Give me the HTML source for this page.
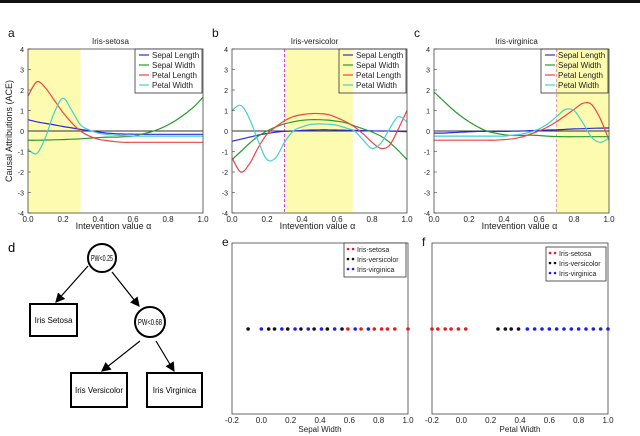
<!DOCTYPE html>
<html><head><meta charset="utf-8"><style>
html,body{margin:0;padding:0;background:#fff}
svg{display:block;font-family:"Liberation Sans",sans-serif}
</style></head><body>
<svg id="c" width="640" height="436" viewBox="0 0 640 436" xmlns="http://www.w3.org/2000/svg">
<rect x="0" y="0" width="640" height="3" fill="#111"/>
<g id="tree">
<text x="8" y="252" font-size="13">d</text>
<defs><marker id="ar" markerWidth="8" markerHeight="8" refX="7" refY="4" orient="auto"><path d="M0,0 L8,4 L0,8 z" fill="#000"/></marker></defs>
<line x1="88" y1="266" x2="56" y2="302" stroke="#000" stroke-width="1.2" marker-end="url(#ar)"/>
<line x1="112" y1="272" x2="139" y2="306" stroke="#000" stroke-width="1.2" marker-end="url(#ar)"/>
<line x1="140" y1="341" x2="102" y2="371" stroke="#000" stroke-width="1.2" marker-end="url(#ar)"/>
<line x1="156" y1="341" x2="174" y2="371" stroke="#000" stroke-width="1.2" marker-end="url(#ar)"/>
<g><circle cx="102" cy="258" r="14" fill="#fff" stroke="#000" stroke-width="2"/><text x="102" y="261" font-size="8" text-anchor="middle" textLength="22" lengthAdjust="spacingAndGlyphs">PW&lt;0.25</text></g>
<g><circle cx="150" cy="322" r="15" fill="#fff" stroke="#000" stroke-width="2"/><text x="150" y="325" font-size="8" text-anchor="middle" textLength="24" lengthAdjust="spacingAndGlyphs">PW&lt;0.68</text></g>
<g><rect x="30" y="304" width="47" height="32" fill="#fff" stroke="#000" stroke-width="2"/><text x="53.5" y="323" font-size="8" text-anchor="middle">Iris Setosa</text></g>
<g><rect x="71" y="373" width="56" height="34" fill="#fff" stroke="#000" stroke-width="2"/><text x="99" y="393" font-size="8" text-anchor="middle">Iris Versicolor</text></g>
<g><rect x="147" y="373" width="55" height="34" fill="#fff" stroke="#000" stroke-width="2"/><text x="174.5" y="393" font-size="8" text-anchor="middle">Iris Virginica</text></g>
</g>
</svg>
<script>
var xs=[0,0.05,0.1,0.15,0.2,0.25,0.3,0.35,0.4,0.45,0.5,0.55,0.6,0.65,0.7,0.75,0.8,0.85,0.9,0.95,1];
var seriesNames=["Sepal Length","Sepal Width","Petal Length","Petal Width"];
var setosaSL=[0.55,0.45,0.37,0.3,0.22,0.15,0.08,0.02,-0.05,-0.1,-0.13,-0.15,-0.15,-0.16,-0.16,-0.16,-0.16,-0.16,-0.16,-0.16,-0.16];
var setosaSW=[-0.45,-0.45,-0.44,-0.43,-0.42,-0.4,-0.38,-0.35,-0.32,-0.3,-0.3,-0.28,-0.25,-0.15,-0.05,0.1,0.3,0.55,0.85,1.2,1.65];
var setosaPL=[1.7,2.4,2.1,1.5,0.9,0.4,0.0,-0.25,-0.4,-0.47,-0.52,-0.55,-0.55,-0.55,-0.55,-0.55,-0.55,-0.55,-0.55,-0.55,-0.55];
var setosaPW=[-0.9,-1.1,-0.3,0.9,1.6,1.0,0.3,0.05,-0.1,-0.17,-0.2,-0.23,-0.25,-0.25,-0.25,-0.25,-0.25,-0.25,-0.25,-0.25,-0.25];
var versSL=[-0.5,-0.4,-0.3,-0.2,-0.12,-0.06,-0.02,0,0.03,0.05,0.06,0.06,0.05,0.04,0.03,0.02,0.01,0,0,-0.02,-0.03];
var versSW=[-1.4,-1.0,-0.6,-0.25,0.0,0.2,0.35,0.45,0.52,0.55,0.55,0.53,0.48,0.4,0.25,0.1,-0.05,-0.25,-0.55,-0.95,-1.4];
var versPL=[-1.3,-2.0,-1.6,-0.8,-0.15,0.2,0.5,0.7,0.8,0.85,0.85,0.8,0.65,0.45,0.2,-0.15,-0.55,-0.85,-0.7,0.1,1.0];
var versPW=[1.0,1.25,0.6,-0.5,-1.4,-1.3,-0.55,0.0,0.2,0.32,0.35,0.33,0.28,0.15,0.0,-0.45,-0.85,-0.6,0.1,0.7,0.45];
var virgSL=[-0.1,-0.1,-0.08,-0.06,-0.04,-0.02,-0.02,-0.02,-0.02,-0.01,0,0.02,0.03,0.05,0.06,0.08,0.1,0.11,0.13,0.14,0.15];
var virgSW=[1.9,1.5,1.1,0.75,0.45,0.2,0.0,-0.1,-0.18,-0.22,-0.22,-0.2,-0.22,-0.25,-0.27,-0.28,-0.28,-0.28,-0.28,-0.28,-0.28];
var virgPL=[-0.45,-0.45,-0.45,-0.45,-0.45,-0.45,-0.45,-0.45,-0.42,-0.38,-0.3,-0.15,0.0,0.2,0.45,0.75,1.05,1.35,1.3,0.6,-0.45];
var virgPW=[-0.25,-0.25,-0.25,-0.25,-0.25,-0.25,-0.25,-0.25,-0.25,-0.2,-0.15,-0.05,0.1,0.35,0.7,1.05,1.0,0.4,-0.3,-0.55,-0.35];
var xTicks=["0.0","0.2","0.4","0.6","0.8","1.0"];
var yTicks=["-4","-3","-2","-1","0","1","2","3","4"];
var eTicks=["-0.2","0.0","0.2","0.4","0.6","0.8","1.0"];
var eSetosa=[0.59,0.68,0.77,0.82,0.86,0.91,1.0];
var eVersicolor=[-0.09,0.05,0.09,0.18,0.27,0.36,0.45,0.55];
var eVirginica=[0,0.14,0.23,0.32,0.41,0.5,0.64,0.73];
var fSetosa=[-0.2,-0.16,-0.11,-0.07,-0.02,0.03];
var fVersicolor=[0.25,0.3,0.34,0.39];
var fVirginica=[0.45,0.5,0.55,0.6,0.65,0.7,0.75,0.8,0.85,0.9,0.95,1.0];

var NS="http://www.w3.org/2000/svg",svg=document.getElementById('c');
function mk(t,a,p){var e=document.createElementNS(NS,t);for(var k in a)e.setAttribute(k,a[k]);(p||svg).appendChild(e);return e;}
var colors=["#2b2bdd","#2a9a2a","#ee4444","#44d0d0"];
function smooth(P){
  var d='M'+P[0][0].toFixed(1)+','+P[0][1].toFixed(1);
  for(var i=0;i<P.length-1;i++){
    var p0=P[i>0?i-1:i],p1=P[i],p2=P[i+1],p3=P[i+2<P.length?i+2:i+1];
    var c1x=p1[0]+(p2[0]-p0[0])/6,c1y=p1[1]+(p2[1]-p0[1])/6;
    var c2x=p2[0]-(p3[0]-p1[0])/6,c2y=p2[1]-(p3[1]-p1[1])/6;
    d+=' C'+c1x.toFixed(1)+','+c1y.toFixed(1)+' '+c2x.toFixed(1)+','+c2y.toFixed(1)+' '+p2[0].toFixed(1)+','+p2[1].toFixed(1);
  }
  return d;
}

function linePanel(o){
  var L=o.x,R=o.x+175,T=49,B=213;
  var g=mk('g',{});
  
  
  function sx(v){return L+v*(R-L);} function sy(v){return B-(v+4)/8*(B-T);}
  var y=mk('rect',{x:sx(o.hl[0]),y:T,width:sx(o.hl[1])-sx(o.hl[0]),height:B-T,fill:'#fdfbb0'},g);
  
  
  if(o.dash){var d=mk('line',{x1:sx(o.dashX),x2:sx(o.dashX),y1:T,y2:B,stroke:o.dash,'stroke-dasharray':'3,2','stroke-width':1},g);
    
    }
  mk('line',{x1:L,x2:R,y1:sy(0),y2:sy(0),stroke:'#333','stroke-width':1},g);
  o.data.forEach(function(s,i){
    var P=s.map(function(v,j){return [sx(xs[j]),sy(v)];});
    var p=mk('path',{d:smooth(P),fill:'none',stroke:colors[i],'stroke-width':1.2},g);
    
    
  });
  mk('rect',{x:L,y:T,width:R-L,height:B-T,fill:'none',stroke:'#444','stroke-width':0.8},g);
  xTicks.forEach(function(t){var v=parseFloat(t);
    var tx=mk('text',{x:sx(v),y:B+9,'font-size':8,'text-anchor':'middle',fill:'#222'},g);tx.textContent=t;
    
    });
  yTicks.forEach(function(t){var v=parseFloat(t);
    mk('line',{x1:L,x2:L+3,y1:sy(v),y2:sy(v),stroke:'#444','stroke-width':0.6},g);
    var tx=mk('text',{x:L-4,y:sy(v)+3,'font-size':7,'text-anchor':'end',fill:'#222'},g);tx.textContent=t;
    
    });
  var xl=mk('text',{x:(L+R)/2-2,y:B+16,'font-size':9,'text-anchor':'middle',fill:'#222'},g);xl.textContent='Intevention value α';
  
  
  var tl=mk('text',{x:(L+R)/2-5,y:T-5,'font-size':8,'text-anchor':'middle',fill:'#222'},g);tl.textContent=o.title;
  
  
  var pl=mk('text',{x:L-20,y:T-12,'font-size':12,fill:'#111'},g);pl.textContent=o.label;
  
  
  var lg=mk('g',{},g);
  
  
  mk('rect',{x:o.lx,y:T,width:R-o.lx-1,height:44,fill:'#fff','fill-opacity':o.lop,stroke:'#333','stroke-width':0.8},lg);
  seriesNames.forEach(function(n,i){var yy=T+9+i*10;
    mk('line',{x1:o.lx+4,x2:o.lx+14,y1:yy-3,y2:yy-3,stroke:colors[i],'stroke-width':1.2},lg);
    var t=mk('text',{x:o.lx+17,y:yy,'font-size':8,fill:'#222'},lg);t.textContent=n;
    
    });
}
linePanel({x:28,name:'chart-setosa',title:'Iris-setosa',label:'a',hl:[0,0.3],data:[setosaSL,setosaSW,setosaPL,setosaPW],lx:135,lop:0.75});
linePanel({x:232,name:'chart-versicolor',title:'Iris-versicolor',label:'b',hl:[0.3,0.69],dash:'#e040e0',dashX:0.3,data:[versSL,versSW,versPL,versPW],lx:339,lop:0});
linePanel({x:434,name:'chart-virginica',title:'Iris-virginica',label:'c',hl:[0.7,1.0],dash:'#f4a0a0',dashX:0.7,data:[virgSL,virgSW,virgPL,virgPW],lx:541,lop:0});
var yl=mk('text',{x:12,y:131,'font-size':9,'text-anchor':'middle',fill:'#222',transform:'rotate(-90 12 131)'});yl.textContent='Causal Attributions (ACE)';



function scatterPanel(o){
  var L=o.x,R=o.x+176,T=243,B=414;
  var g=mk('g',{});
  
  
  function sx(v){return L+(v+0.2)/1.2*(R-L);} var cy=329;
  mk('rect',{x:L,y:T,width:R-L,height:B-T,fill:'#fff',stroke:'#444','stroke-width':0.8},g);
  eTicks.forEach(function(t){var v=parseFloat(t);
    var tx=mk('text',{x:sx(v),y:B+9,'font-size':8,'text-anchor':'middle',fill:'#222'},g);tx.textContent=t;
    
    });
  var sets=[[o.s,'#e02020'],[o.v,'#111'],[o.g,'#2020e0']];
  sets.forEach(function(s){s[0].forEach(function(v){
    var c=mk('circle',{cx:sx(v),cy:cy,r:1.8,fill:s[1]},g);
    
    });});
  var xl=mk('text',{x:(L+R)/2,y:B+18,'font-size':8,'text-anchor':'middle',fill:'#222'},g);xl.textContent=o.xt;
  
  
  var pl=mk('text',{x:L-10,y:T+3,'font-size':12,fill:'#111'},g);pl.textContent=o.label;
  
  
  var lg=mk('g',{},g);
  
  
  mk('rect',{x:o.lx,y:o.ly,width:R-o.lx-2,height:34,fill:'#fff',stroke:'#333','stroke-width':0.8},lg);
  ['Iris-setosa','Iris-versicolor','Iris-virginica'].forEach(function(n,i){var yy=o.ly+9+i*10;
    mk('circle',{cx:o.lx+4,cy:yy-3,r:1.3,fill:sets[i][1]},lg);
    mk('circle',{cx:o.lx+9,cy:yy-3,r:1.3,fill:sets[i][1]},lg);
    var t=mk('text',{x:o.lx+13,y:yy,'font-size':7,fill:'#222'},lg);t.textContent=n;
    
    });
}
scatterPanel({x:232,name:'chart-sepal-width',label:'e',xt:'Sepal Width',s:eSetosa,v:eVersicolor,g:eVirginica,lx:344,ly:243});
scatterPanel({x:432,name:'chart-petal-width',label:'f',xt:'Petal Width',s:fSetosa,v:fVersicolor,g:fVirginica,lx:546,ly:247});
</script>
</body></html>
